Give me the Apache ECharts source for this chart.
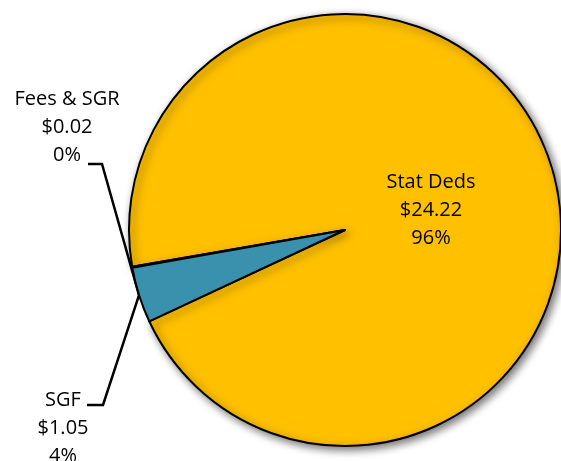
<!DOCTYPE html>
<html lang="en">
<head>
    <meta charset="UTF-8">
    <title>pie</title>
    <style>
        html, body {margin: 0; padding: 0; background: #fff;}
    </style>
</head>
<body>
<div id="container" style="width:561px;height:461px"></div>

<script type="text/javascript" src="https://cdn.jsdelivr.net/npm/echarts@6/dist/echarts.min.js"></script>
<script type="text/javascript">
    // data, in the order the slices run counter-clockwise from the start angle
    var names = ['Stat Deds', 'Fees & SGR', 'SGF'];
    var values = [24.22, 0.02, 1.05];
    var colors = ['#FFC000', '#FFC000', '#3A91AD'];

    var textColor = '#000';
    var fontName = 'Open Sans';

    // pie geometry
    var pieCenter = [345, 230];
    var pieRadius = 216;
    var startAngle = 205;

    // label block centres (x, y)
    var labelPos = [[431, 210], [67, 127], [63, 428]];

    // edge point at the middle of the SGF slice (both leader lines end there)
    function sgfEdgePoint() {
        var total = values.reduce(function (a, b) { return a + b; }, 0);
        var before = values[0] + values[1] + values[2] / 2;
        var ang = (startAngle + before / total * 360) * Math.PI / 180;
        return [pieCenter[0] + pieRadius * Math.cos(ang), pieCenter[1] - pieRadius * Math.sin(ang)];
    }

    var dom = document.getElementById("container");
    var myChart = echarts.init(dom);
    myChart.setOption(drawPie(), true);

    function drawPie() {
        return {
            animation: false,
            series: [{
                type: 'pie',
                center: pieCenter,
                radius: pieRadius,
                startAngle: startAngle,
                clockwise: false,
                percentPrecision: 0,
                avoidLabelOverlap: false,
                silent: true,
                itemStyle: {
                    borderColor: '#000',
                    borderWidth: 2
                },
                label: {
                    show: true,
                    position: 'outside',
                    color: textColor,
                    fontFamily: fontName,
                    fontSize: 20,
                    lineHeight: 28,
                    align: 'center',
                    formatter: function (p) {
                        return p.name + '\n$' + p.value.toFixed(2) + '\n' + p.percent + '%';
                    }
                },
                labelLine: {
                    show: true,
                    length: 20,
                    length2: 15,
                    lineStyle: {
                        color: '#000',
                        width: 2.5
                    }
                },
                labelLayout: function (params) {
                    var i = params.dataIndex;
                    var cx = labelPos[i][0], cy = labelPos[i][1];
                    var out = {x: cx, y: cy, align: 'center', verticalAlign: 'middle'};
                    var edge = sgfEdgePoint();
                    if (i === 2) {
                        // line at the first text line
                        out.labelLinePoints = [edge, [cx + 40, cy - 23], [cx + 24, cy - 23]];
                    } else if (i === 1) {
                        // line at the last text line
                        out.labelLinePoints = [edge, [cx + 35, cy + 37], [cx + 21, cy + 37]];
                    }
                    return out;
                },
                data: names.map(function (n, i) {
                    var item = {
                        name: n,
                        value: values[i],
                        itemStyle: {color: colors[i]}
                    };
                    if (i === 0) {
                        // big slice is drawn first, so its shadow sits under the others
                        item.itemStyle.shadowColor = 'rgba(0,0,0,0.55)';
                        item.itemStyle.shadowBlur = 8;
                        item.itemStyle.shadowOffsetX = 3;
                        item.itemStyle.shadowOffsetY = 3;
                        item.label = {position: 'inside'};
                        item.labelLine = {show: false};
                    }
                    return item;
                })
            }]
        };
    }
</script>
</body>
</html>
